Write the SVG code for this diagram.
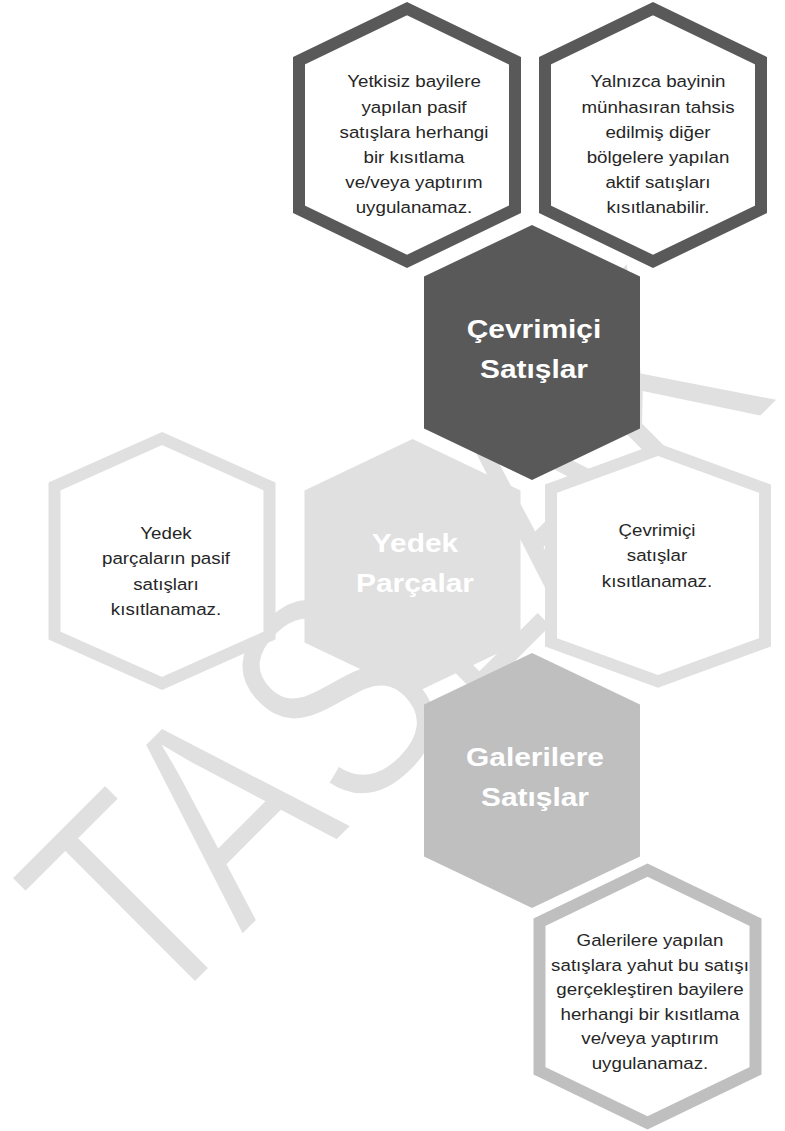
<svg xmlns="http://www.w3.org/2000/svg" width="785" height="1131" viewBox="0 0 785 1131">
<style>
.t{font-family:"Liberation Sans",Arial,sans-serif;font-size:16.3px;fill:#262626;text-anchor:middle}
.b{font-family:"Liberation Sans",Arial,sans-serif;font-size:26px;font-weight:bold;fill:#ffffff;text-anchor:middle}
.wm{font-family:"Liberation Sans",Arial,sans-serif;font-size:300px;fill:#e0e0e0;stroke:#ffffff;stroke-width:5}
.od{fill:#ffffff;stroke:#595959;stroke-width:12;stroke-linejoin:miter}
.ol{fill:#ffffff;stroke:#e0e0e0;stroke-width:12;stroke-linejoin:miter}
.og{fill:#ffffff;stroke:#bfbfbf;stroke-width:12;stroke-linejoin:miter}
</style>
<defs>
<path id="hexO" d="M0,-126.3 L108,-74.3 L108,74.3 L0,126.3 L-108,74.3 L-108,-74.3 Z"/>
<path id="hexF" d="M0,-127.5 L108,-76 L108,76 L0,127.5 L-108,76 L-108,-76 Z"/>
</defs>
<rect width="785" height="1131" fill="#ffffff"/>
<text class="wm" transform="rotate(-45)" x="-619" y="834" textLength="892" lengthAdjust="spacingAndGlyphs">TASLAK</text>
<g id="connectors"/>
<g id="node-yetkisiz">
<use href="#hexO" class="od" transform="translate(407 135)"/>
<text class="t" transform="translate(414 0) scale(1.15 1)"><tspan x="0" y="87.5">Yetkisiz bayilere</tspan><tspan x="0" y="112.7">yapılan pasif</tspan><tspan x="0" y="137.9">satışlara herhangi</tspan><tspan x="0" y="163.1">bir kısıtlama</tspan><tspan x="0" y="188.3">ve/veya yaptırım</tspan><tspan x="0" y="213.5">uygulanamaz.</tspan></text>
</g>
<g id="node-yalnizca">
<use href="#hexO" class="od" transform="translate(653 135)"/>
<text class="t" transform="translate(658 0) scale(1.15 1)"><tspan x="0" y="87.5">Yalnızca bayinin</tspan><tspan x="0" y="112.7">münhasıran tahsis</tspan><tspan x="0" y="137.9">edilmiş diğer</tspan><tspan x="0" y="163.1">bölgelere yapılan</tspan><tspan x="0" y="188.3">aktif satışları</tspan><tspan x="0" y="213.5">kısıtlanabilir.</tspan></text>
</g>
<g id="node-cevrimici">
<use href="#hexF" fill="#595959" transform="translate(532 352.5)"/>
<text class="b" transform="translate(534 0) scale(1.15 1)"><tspan x="0" y="338">Çevrimiçi</tspan><tspan x="0" y="378">Satışlar</tspan></text>
</g>
<g id="node-yedek-aciklama">
<path class="ol" d="M162,438.6 L269.5,486.4 L269.5,635.6 L162,683.4 L54.5,635.6 L54.5,486.4 Z"/>
<text class="t" transform="translate(166 0) scale(1.15 1)"><tspan x="0" y="539">Yedek</tspan><tspan x="0" y="564.3">parçaların pasif</tspan><tspan x="0" y="589.6">satışları</tspan><tspan x="0" y="614.9">kısıtlanamaz.</tspan></text>
</g>
<g id="node-yedek">
<use href="#hexF" fill="#e0e0e0" transform="translate(412.5 566.5)"/>
<text class="b" transform="translate(415 0) scale(1.15 1)"><tspan x="0" y="552">Yedek</tspan><tspan x="0" y="592">Parçalar</tspan></text>
</g>
<g id="node-cevrimici-aciklama">
<path class="ol" d="M658,449.7 L765,488.7 L765,642.3 L658,681.3 L551,642.3 L551,488.7 Z"/>
<text class="t" transform="translate(657 0) scale(1.15 1)"><tspan x="0" y="536">Çevrimiçi</tspan><tspan x="0" y="561.5">satışlar</tspan><tspan x="0" y="587">kısıtlanamaz.</tspan></text>
</g>
<g id="node-galerilere">
<use href="#hexF" fill="#bfbfbf" transform="translate(532 780.5)"/>
<text class="b" transform="translate(535 0) scale(1.15 1)"><tspan x="0" y="766">Galerilere</tspan><tspan x="0" y="806">Satışlar</tspan></text>
</g>
<g id="node-galerilere-aciklama">
<use href="#hexO" class="og" transform="translate(647.5 996.5)"/>
<text class="t" transform="translate(650 0) scale(1.15 1)"><tspan x="0" y="946">Galerilere yapılan</tspan><tspan x="0" y="970.6">satışlara yahut bu satışı</tspan><tspan x="0" y="995.2">gerçekleştiren bayilere</tspan><tspan x="0" y="1019.8">herhangi bir kısıtlama</tspan><tspan x="0" y="1044.4">ve/veya yaptırım</tspan><tspan x="0" y="1069">uygulanamaz.</tspan></text>
</g>
</svg>
